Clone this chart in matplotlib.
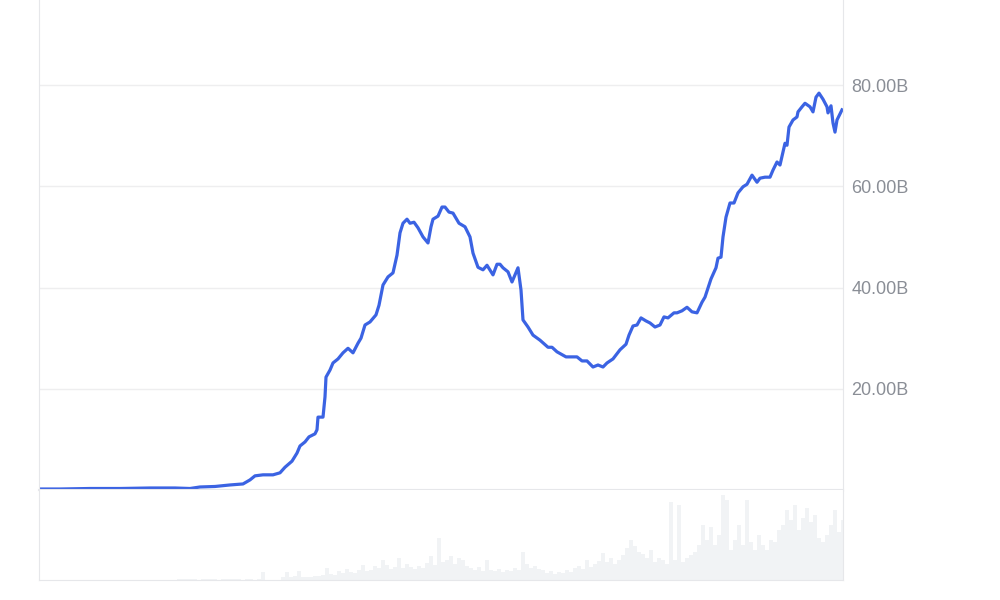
import numpy as np
import matplotlib.pyplot as plt

# market cap (billions USD), sampled by day index
price_day = [0, 42, 102, 162, 222, 272, 302, 322, 352, 382, 408, 422, 432, 448, 468,
             482, 492, 506, 516, 522, 532, 540, 552, 556, 558, 568, 572, 574, 582, 588,
             598, 608, 618, 628, 638, 644, 652, 662, 674, 680, 688, 698, 708, 716, 722,
             728, 736, 742, 750, 758, 768, 778, 784, 788, 798, 806, 812, 820, 828, 840,
             852, 862, 868, 878, 888, 896, 908, 916, 922, 928, 938, 946, 952, 958, 964,
             968, 978, 988, 1002, 1018, 1026, 1036, 1054, 1076, 1086, 1096, 1108, 1118, 1128, 1136,
             1148, 1162, 1174, 1180, 1188, 1196, 1204, 1214, 1222, 1232, 1242, 1250, 1258, 1270, 1276,
             1286, 1296, 1306, 1316, 1326, 1332, 1344, 1354, 1358, 1364, 1368, 1374, 1382, 1390, 1398,
             1408, 1416, 1426, 1436, 1442, 1452, 1462, 1468, 1476, 1482, 1492, 1496, 1500, 1508, 1516,
             1518, 1526, 1532, 1542, 1548, 1554, 1560, 1568, 1576, 1578, 1584, 1588, 1592, 1596, 1606]
price = [0.2, 0.2, 0.3, 0.3, 0.4, 0.4, 0.3, 0.6, 0.7, 1.0, 1.2, 2.0, 2.8, 3.0, 3.0,
         3.4, 4.5, 5.7, 7.3, 8.7, 9.5, 10.5, 11.1, 11.9, 14.4, 14.4, 18.4, 22.3, 23.7, 25.1,
         25.9, 27.1, 28.0, 27.1, 29.0, 30.0, 32.6, 33.2, 34.6, 36.5, 40.5, 42.1, 42.9, 46.4, 50.8,
         52.7, 53.5, 52.7, 52.9, 51.8, 50.0, 48.8, 52.0, 53.5, 54.1, 55.9, 55.9, 54.9, 54.7, 52.7,
         52.0, 50.0, 46.8, 44.0, 43.5, 44.4, 42.5, 44.6, 44.6, 43.9, 43.1, 41.1, 42.5, 43.9, 39.5,
         33.6, 32.2, 30.6, 29.6, 28.2, 28.2, 27.3, 26.3, 26.3, 25.5, 25.5, 24.3, 24.7, 24.3, 25.1,
         25.9, 27.7, 28.8, 30.6, 32.4, 32.6, 34.0, 33.4, 33.0, 32.2, 32.6, 34.2, 34.0, 35.0, 35.0,
         35.4, 36.1, 35.2, 35.0, 37.1, 38.1, 41.7, 43.9, 45.8, 46.0, 50.0, 53.9, 56.7, 56.7, 58.7,
         59.9, 60.4, 62.2, 60.8, 61.6, 61.8, 61.8, 63.2, 64.8, 64.2, 68.5, 68.1, 71.7, 73.1, 73.7,
         74.7, 75.7, 76.4, 75.7, 74.7, 77.6, 78.4, 77.2, 75.7, 74.5, 75.9, 72.5, 70.7, 73.1, 75.1]

# traded volume (relative units), one bar every 8 days
volume = [0] * 35 + [0.8, 1.0, 0.6, 1.2, 0.8, 0.5, 0.7, 1.0, 0.6, 0.8,
          0.5, 0.7, 0.9, 0.6, 1.0, 0.7, 0.5, 0.6, 0.8, 0.5, 0.6] + [
          8, 0, 0, 0, 0, 3, 8, 3, 4, 9, 3, 3, 3, 4, 4, 5, 12, 6, 5, 9,
          7, 11, 8, 7, 10, 15, 9, 10, 14, 12, 20, 15, 11, 13, 22, 12, 16, 13, 11, 14,
          12, 17, 24, 15, 42, 18, 20, 24, 16, 22, 20, 14, 12, 10, 13, 9, 20, 10, 9, 11,
          8, 10, 9, 12, 10, 28, 16, 12, 14, 11, 10, 7, 9, 6, 8, 7, 10, 8, 12, 14,
          11, 20, 13, 16, 19, 27, 18, 22, 16, 20, 25, 32, 40, 34, 28, 26, 22, 30, 18, 22,
          20, 16, 78, 20, 75, 18, 22, 25, 28, 35, 55, 40, 53, 35, 45, 85, 80, 30, 40, 55,
          35, 80, 38, 30, 45, 35, 30, 40, 38, 50, 55, 70, 60, 75, 50, 62, 72, 58, 65, 42,
          38, 45, 55, 70, 48, 60]

yticks = [20, 40, 60, 80]
ytick_labels = ["20.00B", "40.00B", "60.00B", "80.00B"]

line_color = "#3b63e3"
grid_color = "#eeeeef"
edge_color = "#e6e7ea"
text_color = "#8a8e96"

fig = plt.figure(figsize=(10, 6), dpi=100)
plt.rcParams['font.family'] = ['Liberation Sans', 'DejaVu Sans']

ax = fig.add_axes([0.039, 0.1833, 0.804, 0.8167])
vax = fig.add_axes([0.039, 0.0333, 0.804, 0.15])

xmax = 1608
ax.plot(price_day, price, color=line_color, lw=2.3, solid_joinstyle='round')
ax.set_xlim(0, xmax)
ax.set_ylim(0, 96.8)
ax.set_yticks(yticks)
ax.set_yticklabels(ytick_labels)
ax.yaxis.tick_right()
ax.tick_params(axis='y', length=0, pad=6, labelsize=13, labelcolor=text_color)
ax.set_xticks([])
ax.grid(axis='y', color=grid_color, lw=1)
ax.set_axisbelow(True)
ax.spines['top'].set_visible(False)
ax.spines['left'].set_color(edge_color)
ax.spines['right'].set_color(edge_color)
ax.spines['bottom'].set_color(edge_color)
ax.spines['bottom'].set_linewidth(1.5)

vol_day = np.arange(len(volume)) * 8
vax.bar(vol_day, volume, width=7, color="#f1f3f5", linewidth=0)
vax.set_xlim(0, xmax)
vax.set_ylim(0, 90)
vax.set_xticks([])
vax.set_yticks([])
vax.spines['top'].set_visible(False)
for side in ['left', 'right', 'bottom']:
    vax.spines[side].set_color(edge_color)

fig.savefig("out.png", dpi=100, facecolor="white")
